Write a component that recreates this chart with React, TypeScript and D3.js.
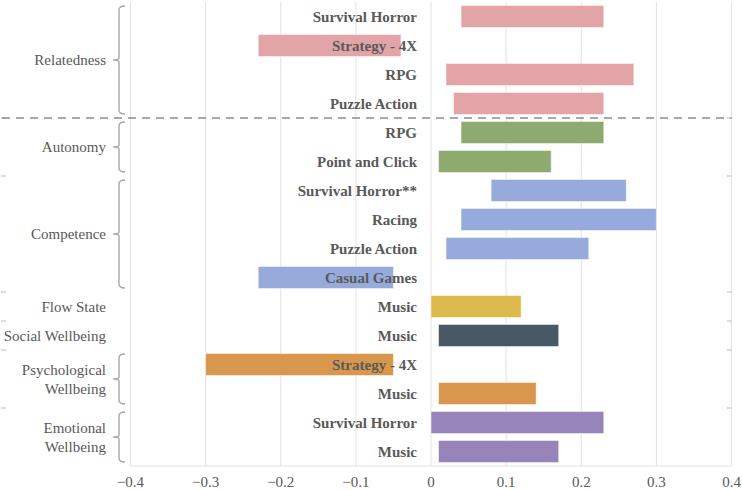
import React from "react";
import * as d3 from "d3";

const rowLabels = [
  "Survival Horror", "Strategy - 4X", "RPG", "Puzzle Action",
  "RPG", "Point and Click",
  "Survival Horror**", "Racing", "Puzzle Action", "Casual Games",
  "Music",
  "Music",
  "Strategy - 4X", "Music",
  "Survival Horror", "Music",
];
const barStart = [0.04, -0.23, 0.02, 0.03, 0.04, 0.01, 0.08, 0.04, 0.02, -0.23, 0.0, 0.01, -0.30, 0.01, 0.0, 0.01];
const barEnd = [0.23, -0.04, 0.27, 0.23, 0.23, 0.16, 0.26, 0.30, 0.21, -0.05, 0.12, 0.17, -0.05, 0.14, 0.23, 0.17];

const groupNames = ["Relatedness", "Autonomy", "Competence", "Flow State", "Social Wellbeing", "Psychological\nWellbeing", "Emotional\nWellbeing"];
const groupSizes = [4, 2, 4, 1, 1, 2, 2];
const groupColors = ["#e3a4a8", "#8faa6f", "#96abdb", "#dbba4b", "#485864", "#d9964d", "#9784bb"];
const xTicks = [-0.4, -0.3, -0.2, -0.1, 0, 0.1, 0.2, 0.3, 0.4];

const W = 742, H = 490;
const plotLeft = 130.5, plotRight = 731.5, plotTop = 2, plotBottom = 466;

export default function App() {
  const x = d3.scaleLinear().domain([-0.4, 0.4]).range([plotLeft, plotRight]);
  const rows = d3.range(rowLabels.length);
  const y = d3.scaleBand<number>().domain(rows).range([plotTop, plotBottom]).paddingInner(0.24).paddingOuter(0.12);
  const step = y.step();

  let acc = 0;
  const groups = groupNames.map((name, i) => {
    const s = acc;
    acc += groupSizes[i];
    return { name, start: s, end: acc, color: groupColors[i] };
  });
  const rowColor: string[] = [];
  groups.forEach((g) => {
    for (let r = g.start; r < g.end; r++) rowColor[r] = g.color;
  });
  const bandTop = (r: number) => plotTop + r * step;

  const font = '"Liberation Serif", "Tinos", "Times New Roman", "DejaVu Serif", serif';
  const textColor = "#595959";

  return (
    <svg width={W} height={H} style={{ position: "absolute", left: 0, top: 0, fontFamily: font }}>
      <rect width={W} height={H} fill="#fff" />
      {xTicks.map((t) => (
        <line key={"g" + t} x1={x(t)} x2={x(t)} y1={plotTop} y2={plotBottom} stroke="#e2e2e2" strokeWidth={1} />
      ))}
      <line x1={plotLeft} x2={plotRight} y1={plotBottom} y2={plotBottom} stroke="#e2e2e2" strokeWidth={1} />
      {groups.slice(1).map((g) => (
        <g key={"bt" + g.name}>
          <line x1={1} x2={6} y1={bandTop(g.start)} y2={bandTop(g.start)} stroke="#bdbdbd" strokeWidth={1} />
          <line x1={727} x2={731.5} y1={bandTop(g.start)} y2={bandTop(g.start)} stroke="#bdbdbd" strokeWidth={1} />
        </g>
      ))}
      {rows.map((r) => {
        const a = Math.min(barStart[r], barEnd[r]);
        const b = Math.max(barStart[r], barEnd[r]);
        return (
          <rect key={"b" + r} x={x(a)} y={y(r)} width={x(b) - x(a)} height={y.bandwidth()}
            fill={rowColor[r]} stroke="#ffffff" strokeOpacity={0.5} strokeWidth={1} />
        );
      })}
      {rows.map((r) => (
        <text key={"l" + r} x={417} y={(y(r) as number) + y.bandwidth() / 2} dy="0.35em" textAnchor="end"
          fontWeight="bold" fontSize={15} fill={textColor} style={{ fontFamily: font }}>{rowLabels[r]}</text>
      ))}
      <line x1={2} x2={plotRight} y1={bandTop(4)} y2={bandTop(4)} stroke="#8c8c8c" strokeWidth={1.3} strokeDasharray="8,6" />
      {groups.map((g) => {
        const top = bandTop(g.start);
        const bot = bandTop(g.end);
        const mid = (top + bot) / 2;
        const lines = g.name.split("\n");
        const lh = 19;
        const brace = g.end - g.start > 1;
        const bt = top + 4, bb = bot - 4, bx = 119;
        const bm = (bt + bb) / 2;
        return (
          <g key={"grp" + g.name}>
            {lines.map((ln, i) => (
              <text key={i} x={106} y={mid + (i - (lines.length - 1) / 2) * lh} dy="0.35em" textAnchor="end"
                fontSize={15} fill={textColor} style={{ fontFamily: font }}>{ln}</text>
            ))}
            {brace && (
              <path
                d={`M ${bx + 6} ${bt} Q ${bx} ${bt} ${bx} ${bt + 4} L ${bx} ${bm - 2} Q ${bx} ${bm} ${bx - 6} ${bm} Q ${bx} ${bm} ${bx} ${bm + 2} L ${bx} ${bb - 4} Q ${bx} ${bb} ${bx + 6} ${bb}`}
                fill="none" stroke="#a8a8a8" strokeWidth={1.4} />
            )}
          </g>
        );
      })}
      {xTicks.map((t) => (
        <text key={"xt" + t} x={x(t)} y={482} dy="0.35em" textAnchor="middle" fontSize={15} fill={textColor}
          style={{ fontFamily: font }}>
          {t === 0 ? "0" : d3.format(".1f")(t)}
        </text>
      ))}
    </svg>
  );
}
